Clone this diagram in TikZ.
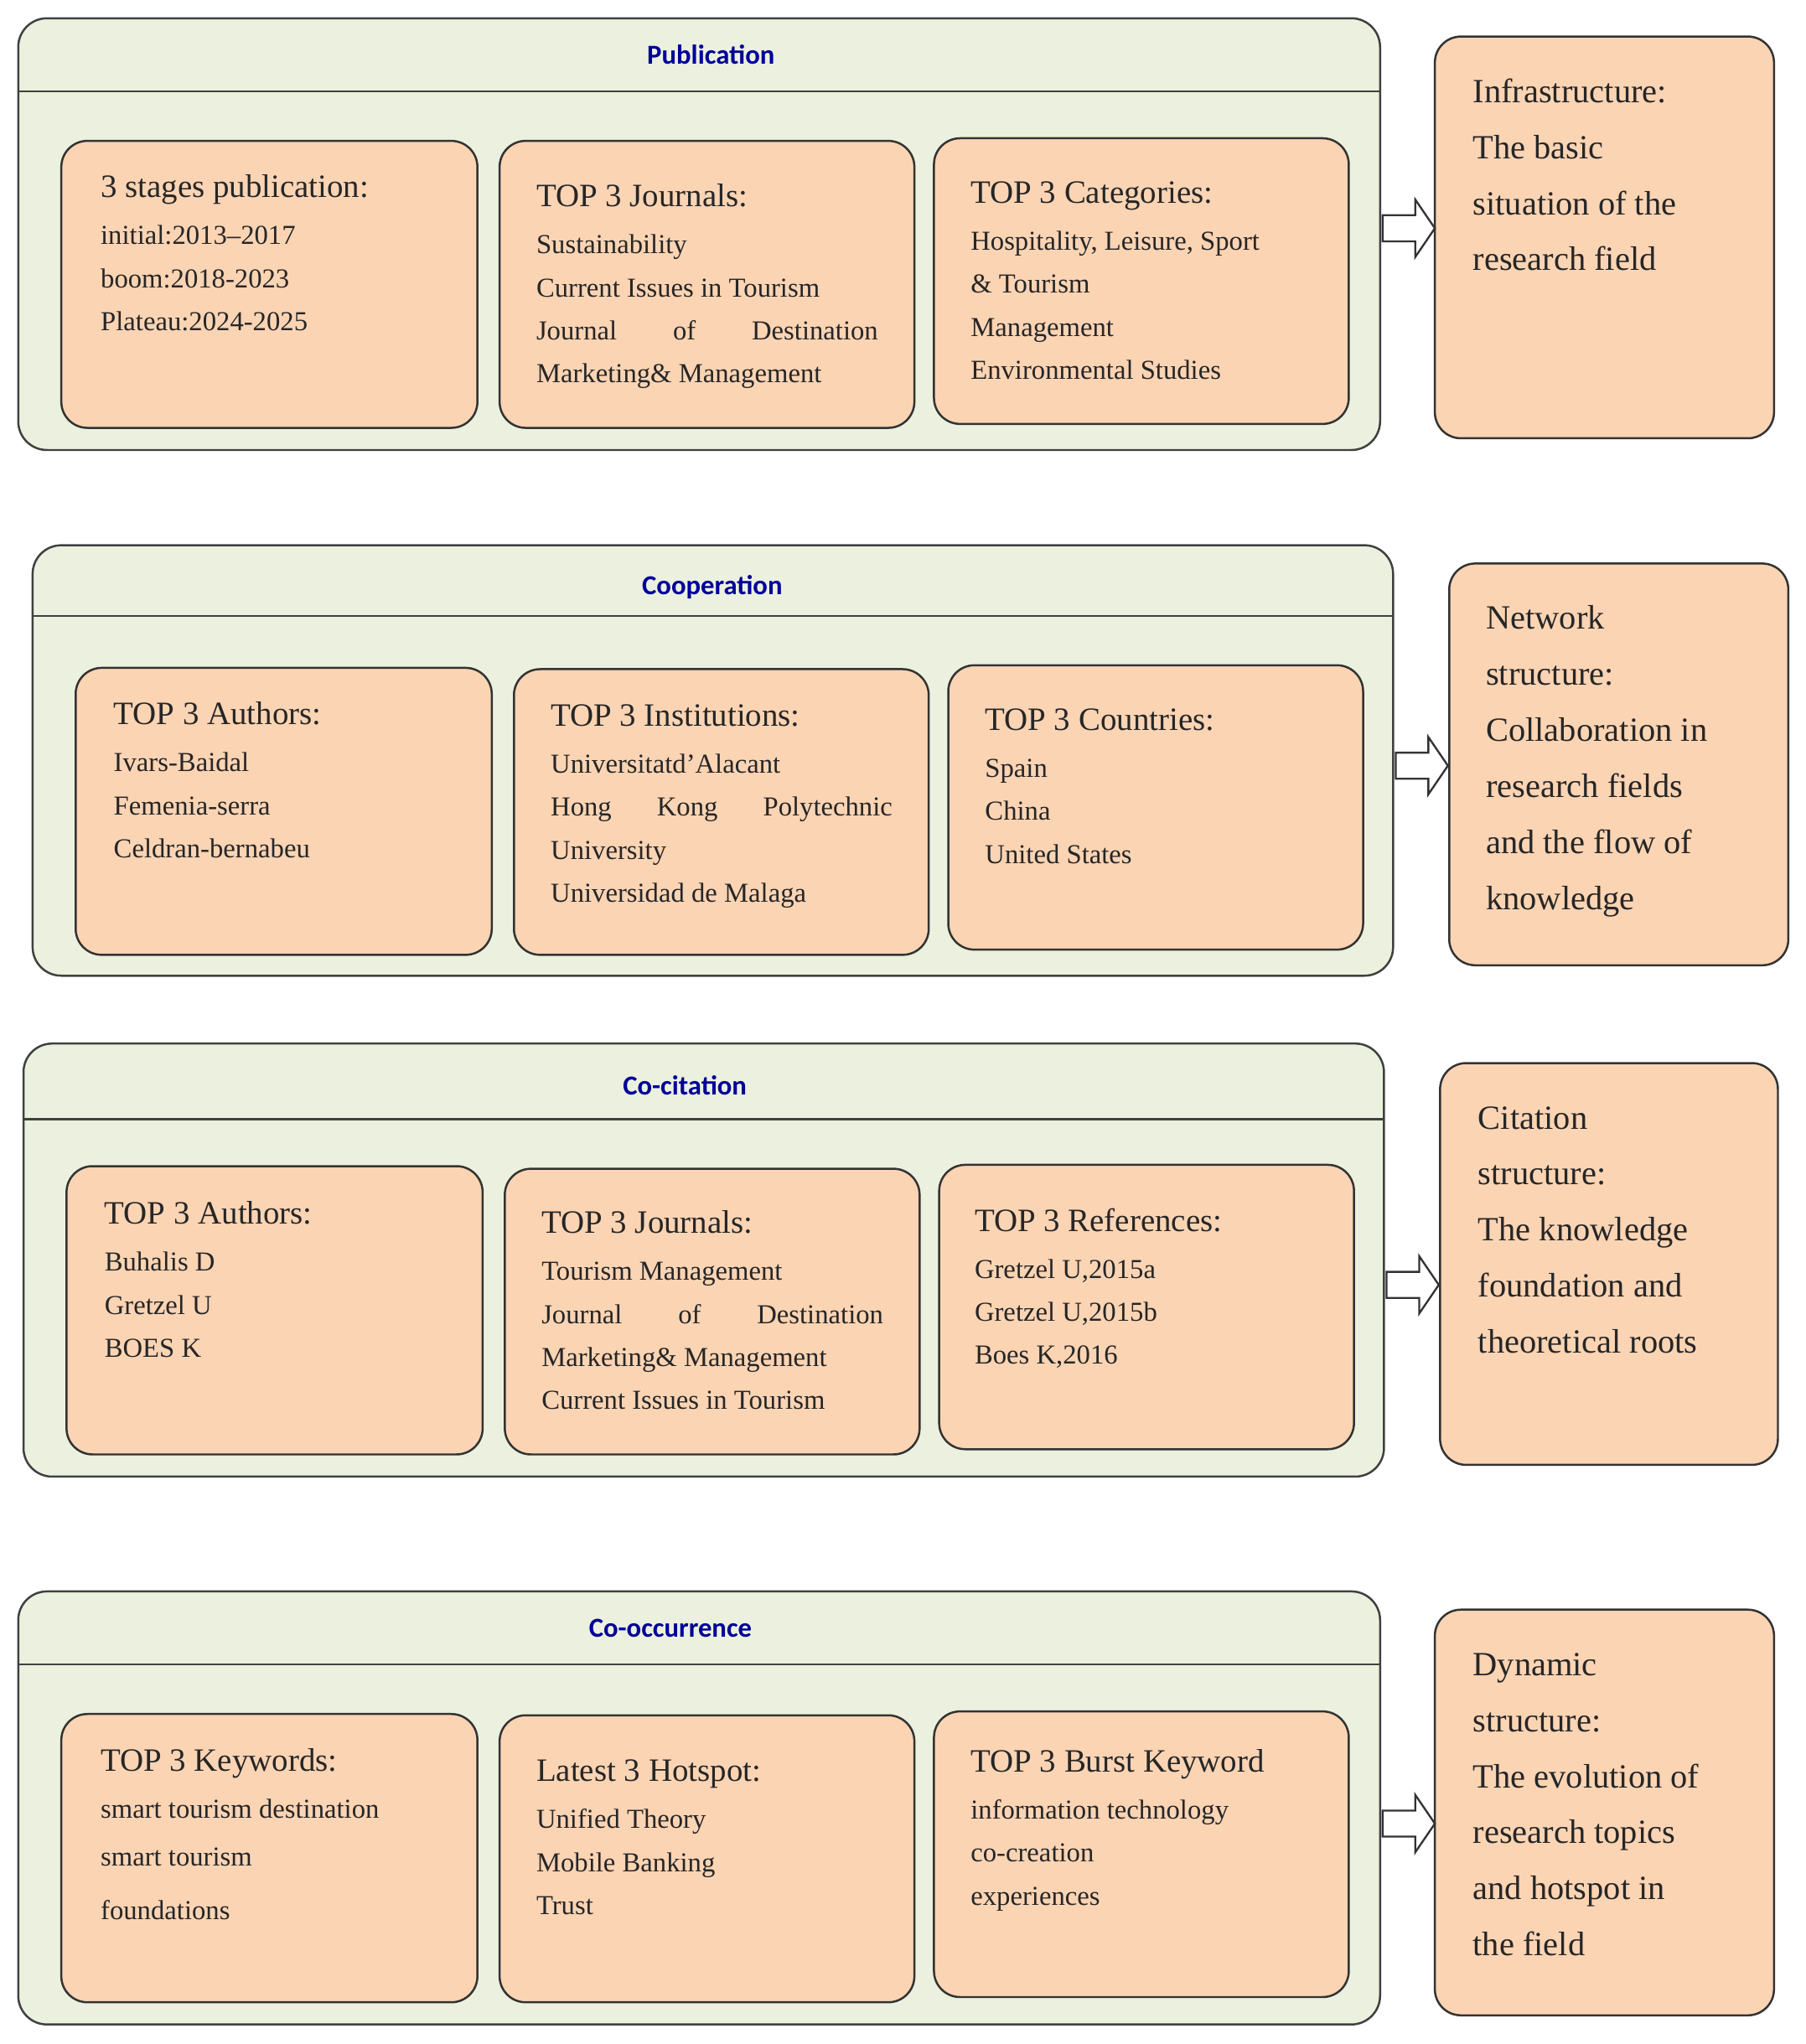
\documentclass[tikz,border=0pt]{standalone}
\usepackage{fontspec}
\setmainfont{Liberation Serif}
\newfontfamily\titlefont{Carlito}
\definecolor{outerfill}{RGB}{235,241,222}
\definecolor{innerfill}{RGB}{251,212,180}
\begin{document}
\begin{tikzpicture}[x=1pt,y=-1pt,
  outerbox/.style={draw=black!75,line width=1.6pt,fill=outerfill,rounded corners=22pt},
  innerbox/.style={draw=black!80,line width=1.6pt,fill=innerfill,rounded corners=20pt},
  rightbox/.style={draw=black!80,line width=1.6pt,fill=innerfill,rounded corners=20pt},
  ptitle/.style={font=\titlefont\bfseries\fontsize{21}{24}\selectfont,text=blue!60!black},
  itemtext/.style={anchor=north west,align=left,inner sep=0pt,yshift=-8pt,font=\fontsize{21}{33}\selectfont,text=black!85},
  righttext/.style={anchor=north west,align=left,inner sep=0pt,yshift=-8pt,font=\fontsize{26}{43}\selectfont,text=black!85},
  hollow/.style={draw=black!80,line width=1.5pt,fill=white}]
\useasboundingbox (0,0) rectangle (1384,1567);
\newcommand{\hd}[1]{{\fontsize{25}{33}\selectfont #1}\\[3pt]}
\newcommand{\jl}[1]{\makebox[262pt][s]{#1}}
\newcommand{\harrow}[2]{\draw[hollow] (#1-20,#2-10) -- (#1+5,#2-10) -- (#1+5,#2-22) -- (#1+20,#2) -- (#1+5,#2+22) -- (#1+5,#2+10) -- (#1-20,#2+10) -- cycle;}
% ---- Publication
\draw[outerbox] (14,14) rectangle (1058,345); \draw[black!75,line width=1.4pt] (14,70) -- (1058,70);
\node[ptitle] (t1) at (545,42) {Publication};
\draw[innerbox] (47,108) rectangle (366,328);
\draw[innerbox] (383,108) rectangle (701,328);
\draw[innerbox] (716,106) rectangle (1034,325);
\node[itemtext] (a1) at (77,126) {\hd{3 stages publication:}initial:2013--2017\\boom:2018-2023\\Plateau:2024-2025};
\node[itemtext] (a2) at (411,133) {\hd{TOP 3 Journals:}Sustainability\\Current Issues in Tourism\\\jl{Journal of Destination}\\Marketing\& Management};
\node[itemtext] (a3) at (744,131) {\hd{TOP 3 Categories:}Hospitality, Leisure, Sport\\\& Tourism\\Management\\Environmental Studies};
\draw[rightbox] (1100,28) rectangle (1360,336);
\node[righttext] (r1) at (1129,52) {Infrastructure:\\The basic\\situation of the\\research field};
\harrow{1080}{175}
% ---- Cooperation
\draw[outerbox] (25,418) rectangle (1068,748); \draw[black!75,line width=1.4pt] (25,472) -- (1068,472);
\node[ptitle] (t2) at (546,450) {Cooperation};
\draw[innerbox] (58,512) rectangle (377,732);
\draw[innerbox] (394,513) rectangle (712,732);
\draw[innerbox] (727,510) rectangle (1045,728);
\node[itemtext] (b1) at (87,530) {\hd{TOP 3 Authors:}Ivars-Baidal\\Femenia-serra\\Celdran-bernabeu};
\node[itemtext] (b2) at (422,532) {\hd{TOP 3 Institutions:}Universitatd'Alacant\\\jl{Hong Kong Polytechnic}\\University\\Universidad de Malaga};
\node[itemtext] (b3) at (755,535) {\hd{TOP 3 Countries:}Spain\\China\\United States};
\draw[rightbox] (1111,432) rectangle (1371,740);
\node[righttext] (r2) at (1139,456) {Network\\structure:\\Collaboration in\\research fields\\and the flow of\\knowledge};
\harrow{1090}{587}
% ---- Co-citation
\draw[outerbox] (18,800) rectangle (1061,1132); \draw[black!75,line width=1.4pt] (18,858) -- (1061,858);
\node[ptitle] (t3) at (525,832) {Co-citation};
\draw[innerbox] (51,894) rectangle (370,1115);
\draw[innerbox] (387,896) rectangle (705,1115);
\draw[innerbox] (720,893) rectangle (1038,1111);
\node[itemtext] (c1) at (80,913) {\hd{TOP 3 Authors:}Buhalis D\\Gretzel U\\BOES K};
\node[itemtext] (c2) at (415,920) {\hd{TOP 3 Journals:}Tourism Management\\\jl{Journal of Destination}\\Marketing\& Management\\Current Issues in Tourism};
\node[itemtext] (c3) at (747,918) {\hd{TOP 3 References:}Gretzel U,2015a\\Gretzel U,2015b\\Boes K,2016};
\draw[rightbox] (1104,815) rectangle (1363,1123);
\node[righttext] (r3) at (1133,840) {Citation\\structure:\\The knowledge\\foundation and\\theoretical roots};
\harrow{1083}{985}
% ---- Co-occurrence
\draw[outerbox] (14,1220) rectangle (1058,1552); \draw[black!75,line width=1.4pt] (14,1276) -- (1058,1276);
\node[ptitle] (t4) at (514,1248) {Co-occurrence};
\draw[innerbox] (47,1314) rectangle (366,1535);
\draw[innerbox] (383,1315) rectangle (701,1535);
\draw[innerbox] (716,1312) rectangle (1034,1531);
\node[itemtext] (d1) at (77,1332) {\hd{TOP 3 Keywords:}smart tourism destination\\[4pt]smart tourism\\[8pt]foundations};
\node[itemtext] (d2) at (411,1341) {\hd{Latest 3 Hotspot:}Unified Theory\\Mobile Banking\\Trust};
\node[itemtext] (d3) at (744,1333) {\hd{TOP 3 Burst Keyword}information technology\\co-creation\\experiences};
\draw[rightbox] (1100,1234) rectangle (1360,1545);
\node[righttext] (r4) at (1129,1259) {Dynamic\\structure:\\The evolution of\\research topics\\and hotspot in\\the field};
\harrow{1080}{1398}
\end{tikzpicture}
\end{document}
